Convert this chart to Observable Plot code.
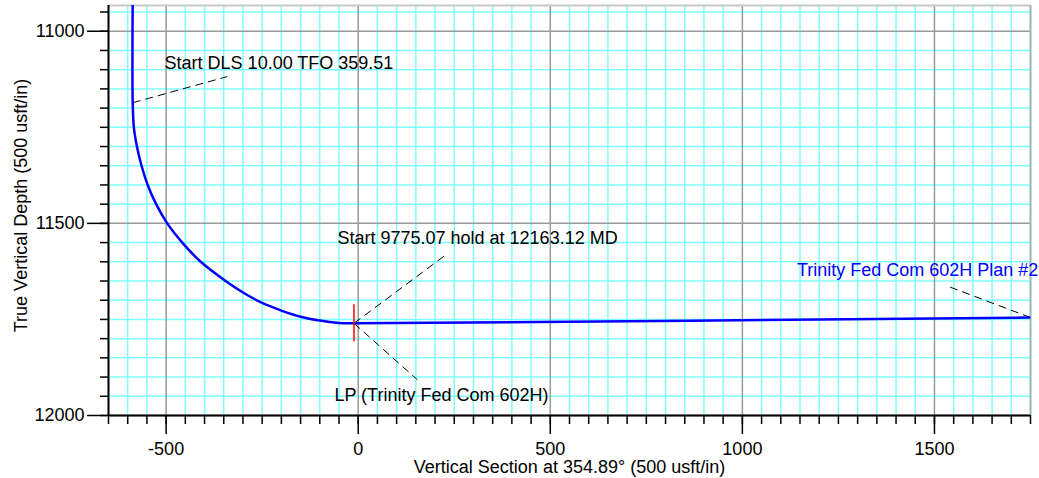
<!DOCTYPE html>
<html>
<head>
<meta charset="utf-8">
<script src="https://cdn.jsdelivr.net/npm/d3@7"></script>
<script src="https://cdn.jsdelivr.net/npm/@observablehq/plot@0.6"></script>
<style>
  html, body { margin: 0; padding: 0; background: white; }
  #chart { width: 1039px; height: 478px; }
</style>
</head>
<body>
<div id="chart"></div>
<script>
// Axis domains and tick labels
const xDomain = [-650, 1750];
const yDomain = [10933, 12000];
const xTicks = [-500, 0, 500, 1000, 1500];
const yTicks = [11000, 11500, 12000];
const minorStep = 50;

// Well path (vertical section, TVD)
const wellX = [-587, -587, -584, -576, -564, -548, -526, -497, -458, -410, -345, -300, -250, -200, -150, -100, -50, -11, 1750];
const wellY = [10920, 11186, 11250, 11300, 11350, 11400, 11450, 11500, 11550, 11600, 11650, 11680, 11707, 11727, 11743, 11753, 11759, 11760, 11745];

// Landing point marker
const lpX = [-11];
const lpY = [11760];

// Annotations
const annoText = ["Start DLS 10.00 TFO 359.51", "Start 9775.07 hold at 12163.12 MD", "LP (Trinity Fed Com 602H)", "Trinity Fed Com 602H Plan #2"];
const annoX = [-504, -54, -62, 1142];
const annoY = [11082, 11538, 11946, 11623];
const annoColor = ["black", "black", "black", "blue"];

// Leader lines (from point on path to label)
const leadX1 = [-587, -11, -11, 1750];
const leadY1 = [11186, 11760, 11760, 11745];
const leadX2 = [-341, 232, 154, 1541];
const leadY2 = [11118, 11579, 11907, 11666];

const xTitle = "Vertical Section at 354.89° (500 usft/in)";
const yTitle = "True Vertical Depth (500 usft/in)";

const well = wellX.map((x, i) => ({x, y: wellY[i]}));
const annos = annoText.map((t, i) => ({t, x: annoX[i], y: annoY[i], c: annoColor[i]}));
const leads = leadX1.map((x1, i) => ({x1, y1: leadY1[i], x2: leadX2[i], y2: leadY2[i]}));
const lp = lpX.map((x, i) => ({x, y: lpY[i]}));

const xMinor = d3.range(xDomain[0], xDomain[1] + 1, minorStep);
const yMinor = d3.range(10950, yDomain[1] + 1, minorStep);
const isMajor = v => v % 500 === 0;

const FONT = "'Liberation Sans', Arial, Helvetica, sans-serif";
const fmt = d => String(d);

const chart = Plot.plot({
  width: 1039,
  height: 478,
  marginLeft: 108,
  marginRight: 9,
  marginTop: 5,
  marginBottom: 63,
  x: {domain: xDomain, axis: null},
  y: {domain: yDomain, reverse: true, axis: null},
  style: {fontFamily: FONT, fontSize: "18px", background: "white", color: "black"},
  marks: [
    // minor cyan grid
    Plot.ruleX(xMinor.filter(v => !isMajor(v)), {stroke: "#80ffff", strokeWidth: 1.5}),
    Plot.ruleY(yMinor.filter(v => !isMajor(v)), {stroke: "#80ffff", strokeWidth: 1.5}),
    // major gray grid
    Plot.ruleX(xMinor.filter(isMajor), {stroke: "#999", strokeWidth: 1.5}),
    Plot.ruleY(yMinor.filter(isMajor), {stroke: "#999", strokeWidth: 1.5}),
    // frame top / right
    Plot.ruleY([yDomain[0]], {stroke: "#c8c8c8", strokeWidth: 2}),
    Plot.ruleX([xDomain[1]], {stroke: "#9fb8b8", strokeWidth: 2}),
    // leaders
    Plot.link(leads, {x1: "x1", y1: "y1", x2: "x2", y2: "y2", stroke: "black", strokeWidth: 1, strokeDasharray: "8 5"}),
    // well path
    Plot.line(well, {x: "x", y: "y", stroke: "blue", strokeWidth: 2.5, curve: "catmull-rom", clip: true}),
    // LP marker
    Plot.ruleX(lp, {x: "x", y1: "y", y2: "y", stroke: "red", strokeWidth: 1.5, insetTop: -18.5, insetBottom: -18.5}),
    // annotations
    Plot.text(annos, {x: "x", y: "y", text: "t", fill: "c", textAnchor: "start", lineAnchor: "middle", fontSize: 18, fontFamily: FONT}),
    // axes lines
    Plot.ruleX([xDomain[0]], {stroke: "black", strokeWidth: 2}),
    Plot.ruleY([yDomain[1]], {stroke: "black", strokeWidth: 2}),
    // x axis ticks
    Plot.axisX(xMinor, {anchor: "bottom", tickSize: 9, tickFormat: () => "", label: null, strokeWidth: 1.5}),
    Plot.axisX(xTicks, {anchor: "bottom", tickSize: 19, tickPadding: 8, tickFormat: fmt, label: null, strokeWidth: 1.5, fontSize: 18, fontFamily: FONT}),
    // y axis ticks
    Plot.axisY(yMinor, {anchor: "left", tickSize: 8, tickFormat: () => "", label: null, strokeWidth: 1.5}),
    Plot.axisY(yTicks, {anchor: "left", tickSize: 21, tickPadding: 3, tickFormat: fmt, label: null, strokeWidth: 1.5, fontSize: 18, fontFamily: FONT}),
    // axis titles
    Plot.text([xTitle], {frameAnchor: "bottom", text: d => d, dy: 52, textAnchor: "middle", lineAnchor: "middle", fontSize: 18, fontFamily: FONT}),
    Plot.text([yTitle], {frameAnchor: "left", text: d => d, dx: -87.5, dy: -5, rotate: -90, textAnchor: "middle", lineAnchor: "middle", fontSize: 18, fontFamily: FONT})
  ]
});
document.getElementById("chart").appendChild(chart);
</script>
</body>
</html>
